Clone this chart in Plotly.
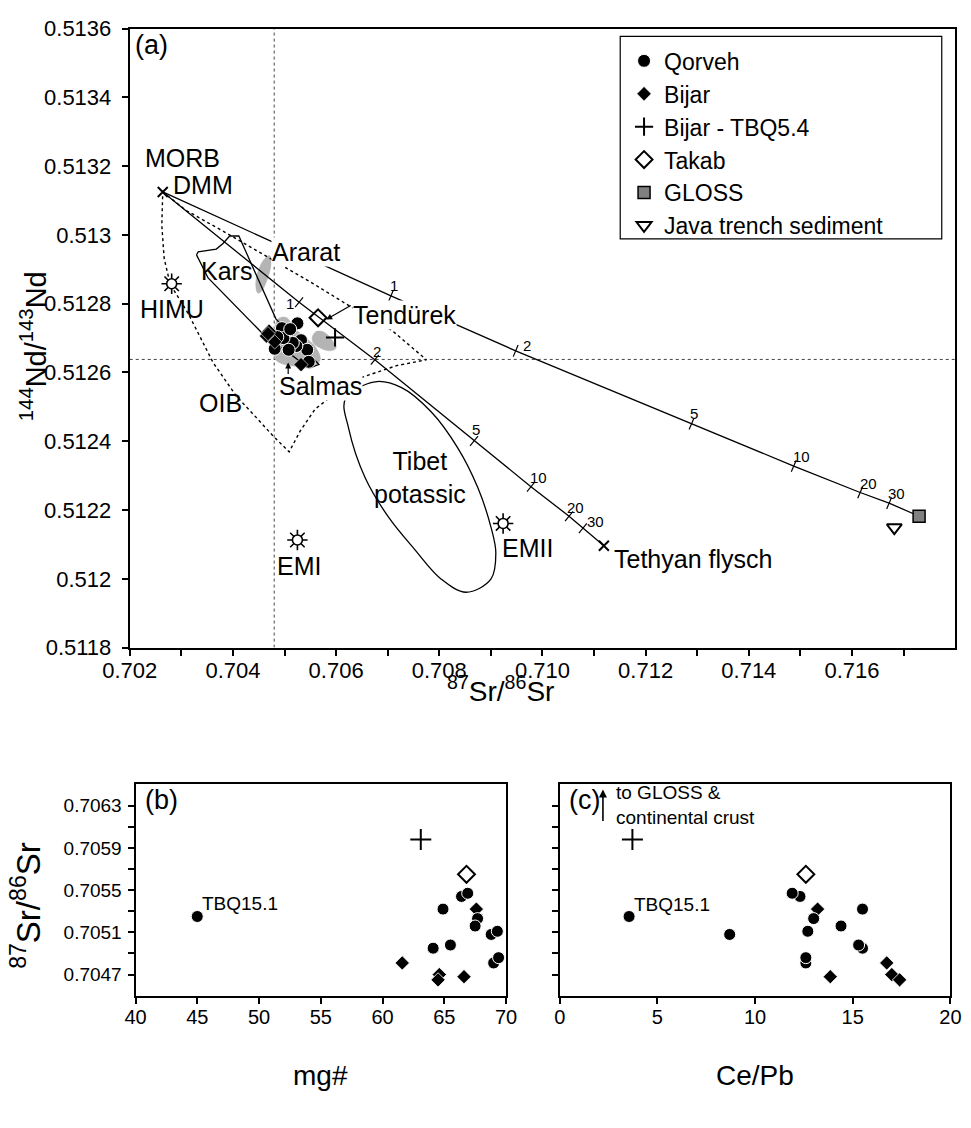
import plotly.graph_objects as go

W, H = 971, 1128
FONT = "Liberation Sans, Arial, Helvetica, sans-serif"

# ---------------- sample data ----------------
# Qorveh: 87Sr/86Sr, 143Nd/144Nd, mg#, Ce/Pb (first sample = TBQ15.1)
qorveh_sr = [0.70525, 0.70532, 0.70544, 0.70547, 0.70523, 0.70516, 0.70495, 0.70498, 0.70508, 0.70511, 0.70481, 0.70486]
qorveh_nd = [0.512743, 0.512694, 0.512666, 0.512631, 0.512677, 0.512686, 0.512729, 0.512700, 0.512666, 0.512726, 0.512669, 0.512703]
qorveh_mg = [45.0, 64.9, 66.4, 66.9, 67.7, 67.5, 64.1, 65.5, 68.8, 69.3, 69.0, 69.4]
qorveh_cepb = [3.55, 15.5, 12.3, 11.9, 13.0, 14.4, 15.5, 15.3, 8.7, 12.7, 12.6, 12.6]

bijar_sr = [0.70532, 0.70481, 0.70470, 0.70465, 0.70468]
bijar_nd = [0.512623, 0.512689, 0.512720, 0.512706, 0.512713]
bijar_mg = [67.6, 61.6, 64.6, 64.5, 66.6]
bijar_cepb = [13.2, 16.74, 17.0, 17.4, 13.85]

tbq54_sr = [0.70598]
tbq54_nd = [0.512702]
tbq54_mg = [63.1]
tbq54_cepb = [3.72]

takab_sr = [0.70565]
takab_nd = [0.512759]
takab_mg = [66.8]
takab_cepb = [12.6]

gloss_sr = [0.71730]
gloss_nd = [0.512182]
java_sr = [0.71682]
java_nd = [0.512149]

# end members
dmm_sr, dmm_nd = [0.70264], [0.513125]
tethyan_sr, tethyan_nd = [0.71119], [0.512096]
mantle_names = ["HIMU", "EMI", "EMII"]
mantle_sr = [0.702813, 0.70525, 0.709237]
mantle_nd = [0.512858, 0.512113, 0.512161]

# mixing curves (DMM -> end member), tick marks at % sediment
mix_pct = ["1", "2", "5", "10", "20", "30"]
gloss_mix_sr = [0.70264, 0.704769, 0.707063, 0.709481, 0.712890, 0.714871, 0.716158, 0.716719, 0.717302]
gloss_mix_nd = [0.513125, 0.512980, 0.512823, 0.512663, 0.512451, 0.512328, 0.512251, 0.512220, 0.512182]
gloss_tick_sr = [0.707063, 0.709481, 0.712890, 0.714871, 0.716158, 0.716719]
gloss_tick_nd = [0.512823, 0.512663, 0.512451, 0.512328, 0.512251, 0.512220]
teth_mix_sr = [0.70264, 0.705283, 0.706750, 0.708673, 0.709777, 0.710515, 0.710783, 0.711190]
teth_mix_nd = [0.513125, 0.512804, 0.512637, 0.512401, 0.512268, 0.512182, 0.512147, 0.512096]
teth_tick_sr = [0.705283, 0.706750, 0.708673, 0.709777, 0.710515, 0.710783]
teth_tick_nd = [0.512804, 0.512637, 0.512401, 0.512268, 0.512182, 0.512147]

# fields
oib_sr = [0.702640, 0.703096, 0.703904, 0.704706, 0.705538, 0.706308, 0.707077, 0.707750, 0.707173, 0.706500,
          0.706019, 0.705596, 0.705308, 0.705090, 0.704769, 0.704385, 0.704063, 0.703615, 0.703135, 0.702783,
          0.702667, 0.702621, 0.702640]
oib_nd = [0.513125, 0.513071, 0.513003, 0.512932, 0.512860, 0.512789, 0.512723, 0.512637, 0.512620, 0.512586,
          0.512543, 0.512494, 0.512431, 0.512369, 0.512417, 0.512480, 0.512532, 0.512629, 0.512771, 0.512857,
          0.512932, 0.513029, 0.513125]
kars_sr = [0.703294, 0.703327, 0.703679, 0.703808, 0.703937, 0.704115, 0.704833, 0.705596, 0.705667, 0.705475,
           0.704577, 0.703519, 0.703390, 0.703294]
kars_nd = [0.512942, 0.512951, 0.512959, 0.512975, 0.512997, 0.512997, 0.512756, 0.512637, 0.512623, 0.512613,
           0.512713, 0.512875, 0.512913, 0.512942]
tibet_sr = [0.706756, 0.706179, 0.706244, 0.706563, 0.707013, 0.707525, 0.708038, 0.708519, 0.709000, 0.709096,
            0.709000, 0.708744, 0.708360, 0.707846, 0.707269, 0.706756]
tibet_nd = [0.512573, 0.512523, 0.512437, 0.512294, 0.512180, 0.512085, 0.511999, 0.511961, 0.511999, 0.512075,
            0.512151, 0.512266, 0.512380, 0.512485, 0.512556, 0.512573]
ararat_sr = [0.704481, 0.704442, 0.704500, 0.704615, 0.704712, 0.704740, 0.704673, 0.704558, 0.704481]
ararat_nd = [0.512831, 0.512857, 0.512900, 0.512931, 0.512940, 0.512917, 0.512874, 0.512837, 0.512831]
tendurek_sr = [0.705538, 0.705615, 0.705769, 0.705923, 0.706000, 0.705885, 0.705692, 0.705558, 0.705538]
tendurek_nd = [0.512703, 0.512719, 0.512717, 0.512694, 0.512671, 0.512663, 0.512671, 0.512686, 0.512703]
salmas_sr = [0.704885, 0.705038, 0.705192, 0.705423, 0.705615, 0.705692, 0.705538, 0.705269, 0.705000, 0.704827,
             0.704769, 0.704788, 0.704885]
salmas_nd = [0.512757, 0.512760, 0.512729, 0.512700, 0.512671, 0.512637, 0.512614, 0.512617, 0.512623, 0.512637,
             0.512671, 0.512717, 0.512757]

bse_sr = 0.70480
chur_nd = 0.512638

# axis ticks
a_xticks = [0.702, 0.703, 0.704, 0.705, 0.706, 0.707, 0.708, 0.709, 0.710, 0.711, 0.712, 0.713, 0.714, 0.715, 0.716, 0.717]
a_xtext = ["0.702", "", "0.704", "", "0.706", "", "0.708", "", "0.710", "", "0.712", "", "0.714", "", "0.716", ""]
a_yticks = [0.5118, 0.5120, 0.5122, 0.5124, 0.5126, 0.5128, 0.5130, 0.5132, 0.5134, 0.5136]
a_ytext = ["0.5118", "0.512", "0.5122", "0.5124", "0.5126", "0.5128", "0.513", "0.5132", "0.5134", "0.5136"]
bc_yticks = [0.7047, 0.7049, 0.7051, 0.7053, 0.7055, 0.7057, 0.7059, 0.7061, 0.7063]
bc_ytext = ["0.7047", "", "0.7051", "", "0.7055", "", "0.7059", "", "0.7063"]
b_xticks = [40, 45, 50, 55, 60, 65, 70]
c_xticks = [0, 5, 10, 15, 20]


def px(x):
    return x / W


def py(y):
    return 1 - y / H


# panel frames (pixels)
A_L, A_R, A_T, A_B = 106, 966, 17, 650
B_L, B_R = 112, 498
C_L, C_R = 554, 961
BC_T, BC_B = 790, 1006

fig = go.Figure()
A = dict(xaxis="x", yaxis="y", hoverinfo="skip")

# grey fields
for fx, fy in [(salmas_sr, salmas_nd), (ararat_sr, ararat_nd), (tendurek_sr, tendurek_nd)]:
    fig.add_trace(go.Scatter(x=fx, y=fy, mode="lines", fill="toself", fillcolor="#b4b4b4",
                             line=dict(color="#b4b4b4", width=0.5, shape="spline"), showlegend=False, **A))
# OIB dotted field
fig.add_trace(go.Scatter(x=oib_sr, y=oib_nd, mode="lines", line=dict(color="black", width=1.4, dash="dot"),
                         showlegend=False, **A))
# Kars
fig.add_trace(go.Scatter(x=kars_sr, y=kars_nd, mode="lines", line=dict(color="black", width=1.3),
                         showlegend=False, **A))
# Tibet potassic
fig.add_trace(go.Scatter(x=tibet_sr, y=tibet_nd, mode="lines", line=dict(color="black", width=1.3, shape="spline"),
                         showlegend=False, **A))
# mixing curves
for mx, my in [(gloss_mix_sr, gloss_mix_nd), (teth_mix_sr, teth_mix_nd)]:
    fig.add_trace(go.Scatter(x=mx, y=my, mode="lines", line=dict(color="black", width=1.3),
                             showlegend=False, **A))
fig.add_trace(go.Scatter(x=gloss_tick_sr, y=gloss_tick_nd, mode="markers",
                         marker=dict(symbol="line-ns-open", size=9, angle=23, color="black",
                                     line=dict(color="black", width=1.2)),
                         showlegend=False, **A))
fig.add_trace(go.Scatter(x=teth_tick_sr, y=teth_tick_nd, mode="markers",
                         marker=dict(symbol="line-ns-open", size=9, angle=39, color="black",
                                     line=dict(color="black", width=1.2)),
                         showlegend=False, **A))
# mantle reservoirs (sun symbols)
fig.add_trace(go.Scatter(x=mantle_sr, y=mantle_nd, mode="markers",
                         marker=dict(symbol="asterisk-open", size=17, color="black", line=dict(color="black", width=1.6)),
                         showlegend=False, **A))
fig.add_trace(go.Scatter(x=mantle_sr, y=mantle_nd, mode="markers",
                         marker=dict(symbol="circle", size=10, color="white", line=dict(color="black", width=1.6)),
                         showlegend=False, **A))
# DMM and Tethyan flysch crosses
fig.add_trace(go.Scatter(x=dmm_sr + tethyan_sr, y=dmm_nd + tethyan_nd, mode="markers",
                         marker=dict(symbol="x-thin-open", size=10, color="black", line=dict(color="black", width=2)),
                         showlegend=False, **A))

# samples, panel a (legend)
fig.add_trace(go.Scatter(x=qorveh_sr, y=qorveh_nd, mode="markers", name="Qorveh", legendrank=1,
                         marker=dict(symbol="circle", size=13, color="black", line=dict(color="white", width=1)), **A))
fig.add_trace(go.Scatter(x=bijar_sr, y=bijar_nd, mode="markers", name="Bijar", legendrank=2,
                         marker=dict(symbol="diamond", size=11, color="black", line=dict(color="white", width=0.6)), **A))
fig.add_trace(go.Scatter(x=tbq54_sr, y=tbq54_nd, mode="markers", name="Bijar - TBQ5.4", legendrank=3,
                         marker=dict(symbol="cross-thin-open", size=13, color="black", line=dict(color="black", width=2)), **A))
fig.add_trace(go.Scatter(x=takab_sr, y=takab_nd, mode="markers", name="Takab", legendrank=4,
                         marker=dict(symbol="diamond-open", size=13, color="black", line=dict(color="black", width=2)), **A))
fig.add_trace(go.Scatter(x=gloss_sr, y=gloss_nd, mode="markers", name="GLOSS", legendrank=5,
                         marker=dict(symbol="square", size=12, color="#808080", line=dict(color="black", width=1.5)), **A))
fig.add_trace(go.Scatter(x=java_sr, y=java_nd, mode="markers", name="Java trench sediment", legendrank=6,
                         marker=dict(symbol="triangle-down-open", size=13, color="black", line=dict(color="black", width=2)), **A))

# panels b and c
for xa, ya, xq, xb, xt, xk in [("x2", "y2", qorveh_mg, bijar_mg, tbq54_mg, takab_mg),
                               ("x3", "y3", qorveh_cepb, bijar_cepb, tbq54_cepb, takab_cepb)]:
    P = dict(xaxis=xa, yaxis=ya, hoverinfo="skip", showlegend=False)
    fig.add_trace(go.Scatter(x=xb, y=bijar_sr, mode="markers",
                             marker=dict(symbol="diamond", size=11, color="black", line=dict(color="white", width=0.8)), **P))
    fig.add_trace(go.Scatter(x=xq, y=qorveh_sr, mode="markers",
                             marker=dict(symbol="circle", size=12, color="black", line=dict(color="white", width=1)), **P))
    fig.add_trace(go.Scatter(x=xt, y=tbq54_sr, mode="markers",
                             marker=dict(symbol="cross-thin-open", size=15, color="black", line=dict(color="black", width=2)), **P))
    fig.add_trace(go.Scatter(x=xk, y=takab_sr, mode="markers",
                             marker=dict(symbol="diamond-open", size=13, color="black", line=dict(color="black", width=2)), **P))

ax_common = dict(showgrid=False, zeroline=False, showline=True, linecolor="black", linewidth=2, mirror=True,
                 ticks="outside", ticklen=6, tickwidth=1.5, tickcolor="black")

fig.update_layout(
    width=W, height=H, autosize=False,
    margin=dict(l=0, r=0, t=0, b=0),
    paper_bgcolor="white", plot_bgcolor="white",
    font=dict(family=FONT, color="black"),
    showlegend=True,
    legend=dict(x=px(621), y=py(28), xanchor="left", yanchor="top", bgcolor="rgba(0,0,0,0)",
                borderwidth=0, font=dict(size=23, family=FONT), itemsizing="trace"),
    xaxis=dict(domain=[px(A_L), px(A_R)], range=[0.702, 0.718], tickvals=a_xticks, ticktext=a_xtext,
               tickfont=dict(size=22), anchor="y", ticklabelstandoff=-4, **ax_common),
    yaxis=dict(domain=[py(A_B), py(A_T)], range=[0.5118, 0.5136], tickvals=a_yticks, ticktext=a_ytext,
               tickfont=dict(size=22), anchor="x", ticklabelstandoff=6, **ax_common),
    xaxis2=dict(domain=[px(B_L), px(B_R)], range=[40, 70], tickvals=b_xticks,
                tickfont=dict(size=20), anchor="y2", ticklabelstandoff=-4, **ax_common),
    yaxis2=dict(domain=[py(BC_B), py(BC_T)], range=[0.7045, 0.7065], tickvals=bc_yticks, ticktext=bc_ytext,
                tickfont=dict(size=19), anchor="x2", ticklabelstandoff=2, **ax_common),
    xaxis3=dict(domain=[px(C_L), px(C_R)], range=[0, 20], tickvals=c_xticks,
                tickfont=dict(size=20), anchor="y3", ticklabelstandoff=-4, **ax_common),
    yaxis3=dict(domain=[py(BC_B), py(BC_T)], range=[0.7045, 0.7065], tickvals=bc_yticks, showticklabels=False,
                anchor="x3", **ax_common),
)

# reference lines and legend frame
fig.add_shape(type="line", xref="x", yref="y", x0=bse_sr, x1=bse_sr, y0=0.5118, y1=0.5136,
              line=dict(color="#444", width=1, dash="dot"), layer="below")
fig.add_shape(type="line", xref="x", yref="y", x0=0.702, x1=0.718, y0=chur_nd, y1=chur_nd,
              line=dict(color="#444", width=1, dash="dot"), layer="below")
fig.add_shape(type="rect", xref="paper", yref="paper", x0=px(617), x1=px(952), y0=py(232), y1=py(25),
              line=dict(color="black", width=1.2))

ann = []


def label(x, y, text, size=25, bg=None, **kw):
    d = dict(x=x, y=y, xref="x", yref="y", text=text, showarrow=False, xanchor="center", yanchor="middle",
             font=dict(size=size, family=FONT))
    if bg:
        d.update(bgcolor=bg, borderpad=0)
    d.update(kw)
    ann.append(d)


def ptext(xp, yp, text, size, **kw):
    d = dict(x=px(xp), y=py(yp), xref="paper", yref="paper", text=text, showarrow=False,
             xanchor="center", yanchor="middle", font=dict(size=size, family=FONT))
    d.update(kw)
    ann.append(d)


label(0.703019, 0.513223, "MORB")
label(dmm_sr[0], dmm_nd[0], "DMM", xanchor="left", xshift=8, yshift=7)
label(0.703885, 0.512894, "Kars")
label(0.705423, 0.512951, "Ararat", bg="white")
label(0.707317, 0.512768, "Tendürek", bg="white")
label(0.705692, 0.512561, "Salmas", bg="white")
label(0.703760, 0.512511, "OIB")
label(0.707621, 0.512294, "Tibet<br>potassic")
label(mantle_sr[0], mantle_nd[0], mantle_names[0], yshift=-25)
label(mantle_sr[1], mantle_nd[1], mantle_names[1], yshift=-26, xshift=2)
label(mantle_sr[2], mantle_nd[2], mantle_names[2], xanchor="left", xshift=-3, yshift=-25)
label(tethyan_sr[0], tethyan_nd[0], "Tethyan flysch", xanchor="left", xshift=8, yshift=-13)

# mixing tick labels
gloss_off = [(3, 10), (11, 5), (2, 10), (8, 10), (8, 9), (7, 10)]
teth_off = [(-9, -1), (2, 8), (2, 11), (8, 9), (6, 9), (13, 7)]
for t, xv, yv, (dx, dy) in zip(mix_pct, gloss_tick_sr, gloss_tick_nd, gloss_off):
    label(xv, yv, t, size=15, xshift=dx, yshift=dy)
for t, xv, yv, (dx, dy) in zip(mix_pct, teth_tick_sr, teth_tick_nd, teth_off):
    label(xv, yv, t, size=15, xshift=dx, yshift=dy)

# arrows in panel a
ann.append(dict(x=0.705808, y=0.512754, xref="x", yref="y", ax=26, ay=-15, showarrow=True, text="",
                arrowhead=2, arrowsize=1, arrowwidth=1.2, arrowcolor="black", standoff=0))
ann.append(dict(x=0.705071, y=0.512629, xref="x", yref="y", ax=0, ay=13, showarrow=True, text="",
                arrowhead=2, arrowsize=1, arrowwidth=1.2, arrowcolor="black", standoff=0))

# panel letters and b/c labels
ptext(A_L + 3, 34, "(a)", 27, xanchor="left")
ptext(B_L + 8, 806, "(b)", 27, xanchor="left")
ptext(C_L + 8, 806, "(c)", 27, xanchor="left")
ann.append(dict(x=qorveh_mg[0], y=qorveh_sr[0], xref="x2", yref="y2", text="TBQ15.1", showarrow=False,
                xanchor="left", yanchor="middle", xshift=3, yshift=13, font=dict(size=19, family=FONT)))
ann.append(dict(x=qorveh_cepb[0], y=qorveh_sr[0], xref="x3", yref="y3", text="TBQ15.1", showarrow=False,
                xanchor="left", yanchor="middle", xshift=3, yshift=12, font=dict(size=19, family=FONT)))
ann.append(dict(x=px(599), y=py(795), xref="paper", yref="paper", ax=0, ay=33, showarrow=True, text="",
                arrowhead=2, arrowsize=1, arrowwidth=1.6, arrowcolor="black", standoff=0))
ptext(611, 811, "to GLOSS &<br>continental crust", 19, xanchor="left", align="left")

# axis titles
ptext(6, 342, "<sup>144</sup>Nd/<sup>143</sup>Nd", 29, textangle=-90)
ptext(492, 692, "<sup>87</sup>Sr/<sup>86</sup>Sr", 28)
ptext(-2, 914, "<sup>87</sup>Sr/<sup>86</sup>Sr", 33, textangle=-90)
ptext((B_L + B_R) / 2, 1088, "mg#", 28)
ptext((C_L + C_R) / 2, 1088, "Ce/Pb", 28)

fig.update_layout(annotations=ann)
fig.write_html("out.html", config={"displayModeBar": False},
               post_script="document.body.style.margin='0px';document.body.style.overflow='hidden';")
